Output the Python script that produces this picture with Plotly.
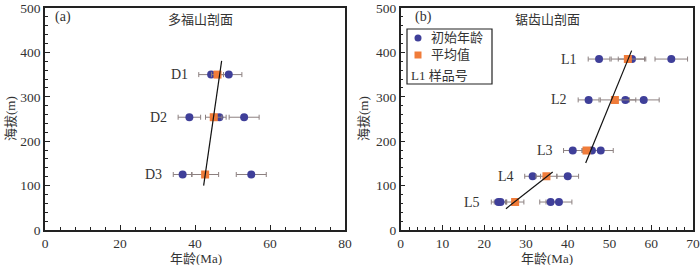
import plotly.graph_objects as go

# ---------------- data ----------------
# Panel (a) 多福山剖面
a_samples = ["D1", "D2", "D3"]
a_alt = [350, 254, 125]
a_circ_age = [[44.3, 49.0], [38.5, 46.5, 53.1], [36.7, 55.0]]
a_circ_err = [[3.3, 3.5], [3.0, 1.8, 4.0], [2.5, 4.0]]
a_mean_age = [46.0, 45.0, 42.7]
a_mean_err = [1.6, 2.2, 3.6]
a_fit_age = [42.3, 47.1]
a_fit_alt = [100, 381]

# Panel (b) 锯齿山剖面
b_samples = ["L1", "L2", "L3", "L4", "L5"]
b_alt = [385, 293, 179, 121, 63]
b_circ_age = [[47.5, 55.4, 64.8], [45.0, 53.8, 58.2], [41.2, 45.8, 47.9],
              [31.6, 40.0], [23.4, 23.9, 35.9, 37.9]]
b_circ_err = [[2.6, 3.3, 3.9], [2.5, 2.5, 3.7], [2.2, 2.0, 3.0],
              [1.9, 2.6], [1.7, 1.5, 2.6, 3.1]]
b_mean_age = [54.4, 51.3, 44.5, 34.9, 27.4]
b_mean_err = [4.0, 3.5, 1.0, 2.5, 2.1]
b_fit1_age = [44.3, 55.3]
b_fit1_alt = [151, 404]
b_fit2_age = [25.2, 36.4]
b_fit2_alt = [48, 130.5]

# ---------------- style ----------------
FONT = "Liberation Serif, Times New Roman, Noto Sans CJK SC, serif"
TXT = "#333333"
CIRC = "#3f3f99"
SQR = "#f07c3a"
ERR = "#8c8080"
AX = "#222222"

W, H = 700, 265
ML, MR, MT, MB = 45, 7, 8, 35
PW, PH = W - ML - MR, H - MT - MB


def pxx(px):
    return (px - ML) / PW


def pxy(py):
    return (H - MB - py) / PH


fig = go.Figure()


def add_panel(xa, ya, samples, alts, circ_age, circ_err, mean_age, mean_err, fits):
    cx, cy, ce = [], [], []
    for alt, ages, errs in zip(alts, circ_age, circ_err):
        cx += ages
        cy += [alt] * len(ages)
        ce += errs
    fig.add_trace(go.Scatter(
        x=cx, y=cy, mode="markers", xaxis=xa, yaxis=ya, showlegend=False,
        marker=dict(symbol="circle", size=8, color=CIRC),
        error_x=dict(type="data", array=ce, visible=True, color=ERR,
                     thickness=1, width=2.5)))
    fig.add_trace(go.Scatter(
        x=mean_age, y=alts, mode="markers", xaxis=xa, yaxis=ya, showlegend=False,
        marker=dict(symbol="square", size=8, color=SQR),
        error_x=dict(type="data", array=mean_err, visible=True, color=ERR,
                     thickness=1, width=2.5)))
    for fx, fy in fits:
        fig.add_trace(go.Scatter(
            x=fx, y=fy, mode="lines", xaxis=xa, yaxis=ya, showlegend=False,
            line=dict(color="#111111", width=1.2)))
    # sample labels
    for name, alt, ages, errs, m, me in zip(samples, alts, circ_age, circ_err,
                                              mean_age, mean_err):
        lo = min([a - e for a, e in zip(ages, errs)] + [m - me])
        fig.add_annotation(x=lo, y=alt, xref=xa, yref=ya, text=name,
                           showarrow=False, xanchor="right", yanchor="middle",
                           xshift=-9, font=dict(family=FONT, size=14, color=TXT))


add_panel("x", "y", a_samples, a_alt, a_circ_age, a_circ_err, a_mean_age,
          a_mean_err, [(a_fit_age, a_fit_alt)])
add_panel("x2", "y2", b_samples, b_alt, b_circ_age, b_circ_err, b_mean_age,
          b_mean_err, [(b_fit1_age, b_fit1_alt), (b_fit2_age, b_fit2_alt)])

axis_common = dict(
    showline=True, linecolor=AX, linewidth=1.5, mirror=True,
    ticks="inside", ticklen=5, tickwidth=1, tickcolor=AX,
    showgrid=False, zeroline=False, ticklabeloverflow="allow",
    tickfont=dict(family=FONT, size=13.5, color=TXT),
)

fig.update_layout(
    width=W, height=H,
    margin=dict(l=ML, r=MR, t=MT, b=MB, autoexpand=False),
    paper_bgcolor="white", plot_bgcolor="white",
    showlegend=False,
    xaxis=dict(domain=[0, pxx(345)], range=[0, 80], dtick=20,
               minor=dict(dtick=4, ticks="inside", ticklen=3, tickcolor=AX),
               anchor="y", **axis_common),
    yaxis=dict(domain=[0, 1], range=[0, 500], dtick=100,
               minor=dict(dtick=20, ticks="inside", ticklen=3, tickcolor=AX),
               anchor="x", **axis_common),
    xaxis2=dict(domain=[pxx(400.7), 1], range=[0, 70], dtick=10,
                minor=dict(dtick=2, ticks="inside", ticklen=3, tickcolor=AX),
                anchor="y2", **axis_common),
    yaxis2=dict(domain=[0, 1], range=[0, 500], dtick=100,
                minor=dict(dtick=20, ticks="inside", ticklen=3, tickcolor=AX),
                anchor="x2", **axis_common),
)


def note(text, px, py, xanchor="center", size=14, angle=0):
    fig.add_annotation(x=pxx(px), y=pxy(py), xref="paper", yref="paper",
                       text=text, showarrow=False, xanchor=xanchor,
                       yanchor="middle", textangle=angle,
                       font=dict(family=FONT, size=size, color=TXT))


# panel headings
note("(a)", 53, 17, xanchor="left")
note("多福山剖面", 200, 19, size=13)
note("(b)", 413, 17, xanchor="left")
note("锯齿山剖面", 547, 19, size=13)
# axis titles
note("年龄(Ma)", 196, 258, size=13)
note("年龄(Ma)", 547, 258, size=13)
note("海拔(m)", 10, 119, size=13, angle=-90)
note("海拔(m)", 363, 119, size=13, angle=-90)

# manual legend in panel (b)
fig.add_shape(type="rect", xref="paper", yref="paper",
              x0=pxx(407), x1=pxx(492), y0=pxy(84), y1=pxy(29),
              line=dict(color=AX, width=1.2), fillcolor="white", layer="below")
fig.add_shape(type="circle", xref="paper", yref="paper",
              xsizemode="pixel", ysizemode="pixel",
              xanchor=pxx(418), yanchor=pxy(38),
              x0=-3.5, x1=3.5, y0=-3.5, y1=3.5,
              line=dict(width=0), fillcolor=CIRC)
fig.add_shape(type="rect", xref="paper", yref="paper",
              xsizemode="pixel", ysizemode="pixel",
              xanchor=pxx(418), yanchor=pxy(55),
              x0=-3.5, x1=3.5, y0=-3.5, y1=3.5,
              line=dict(width=0), fillcolor=SQR)
note("初始年龄", 429, 38, xanchor="left", size=13)
note("平均值", 429, 55, xanchor="left", size=13)
note("L1 样品号", 409, 75, xanchor="left", size=13)

fig.write_html("out.html", config={"displayModeBar": False},
               post_script="document.body.style.margin='0';")
